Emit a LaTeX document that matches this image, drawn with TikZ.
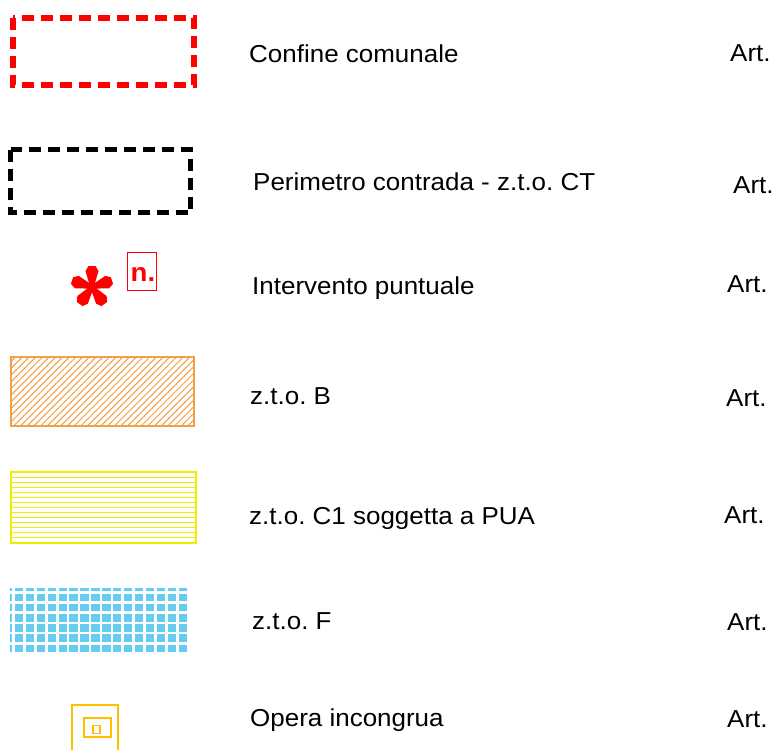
\documentclass[tikz,border=0pt]{standalone}
\usepackage{fontspec}
\setmainfont{Liberation Sans}[FakeStretch=1.06]
\frenchspacing
\definecolor{cfred}{RGB}{255,0,0}
\definecolor{orhatch}{RGB}{242,160,70}
\definecolor{ylw}{RGB}{238,238,0}
\definecolor{cyanq}{RGB}{102,204,242}
\definecolor{goldq}{RGB}{255,192,0}
\tikzset{
  lbl/.style={anchor=base west, inner sep=0pt, font=\fontsize{24.5}{28}\selectfont\frenchspacing, text=black},
  artlbl/.style={anchor=base west, inner sep=0pt, font=\fontsize{24.5}{28}\selectfont, text=black},
}
\begin{document}
\begin{tikzpicture}[x=1pt,y=-1pt]
\useasboundingbox (0,0) rectangle (775,749);
% Confine comunale
\draw[cfred, line width=6pt, dash pattern=on 12pt off 7pt] (13,18) rectangle (194,85);
% Perimetro contrada
\draw[black, line width=4.5pt, dash pattern=on 12pt off 7pt] (10.5,149.5) rectangle (190.5,212.5);
% Intervento puntuale: asterisk
\begin{scope}[shift={(92,287)}]
  \foreach \a in {18,90,162,234,306}{
    \fill[cfred, rotate=\a] (0,-1.8) -- (16,-6.5) -- (21,-3.5) -- (21,3.5) -- (16,6.5) -- (0,1.8) -- cycle;
  }
  \fill[cfred] (0,0) circle (3.5);
\end{scope}
\draw[cfred, line width=1.5pt] (127.5,252.5) rectangle (156.5,290.5);
\node[anchor=base west, inner sep=0pt, text=cfred, font=\fontsize{26}{28}\selectfont\bfseries] (nlab) at (130.5,281) {n.};
% z.t.o. B hatch
\begin{scope}
  \clip (11,357) rectangle (194,426);
  \foreach \i in {0,...,40}{
    \draw[orhatch, line width=1pt] ({-60+\i*6.7},426) -- ++(69,-69);
  }
\end{scope}
\draw[orhatch, line width=1.3pt] (11,357) rectangle (194,426);
% z.t.o. C1 lines
\foreach \i in {1,...,13}{
  \draw[ylw, line width=1.1pt] (11,{472+\i*5.07}) -- (196,{472+\i*5.07});
}
\draw[ylw, line width=1.6pt] (11,472) rectangle (196,543);
% z.t.o. F grid
\begin{scope}
  \clip (10,588) rectangle (187.3,653);
  \foreach \i in {-1,...,15}{
    \foreach \j in {-1,...,5}{
      \fill[cyanq] ({14.7+\i*10.95},{593.6+\j*10.2}) rectangle ++(8.2,7.6);
    }
  }
\end{scope}
% Opera incongrua
\draw[goldq, line width=2.5pt] (72.2,705.2) rectangle (117.8,752);
\draw[goldq, line width=2pt] (84.3,717.7) rectangle (110.7,737.3);
\draw[goldq, line width=1.5pt] (93,725.7) rectangle (100,733.3);
% labels
\node[lbl] (t1) at (249,63) {Confine comunale};
\node[lbl] (t2) at (253,190) {Perimetro contrada - z.t.o. CT};
\node[lbl] (t3) at (252,294) {Intervento puntuale};
\node[lbl] (t4) at (250,404) {z.t.o. B};
\node[lbl] (t5) at (249,524) {z.t.o. C1 soggetta a PUA};
\node[lbl] (t6) at (252,629) {z.t.o. F};
\node[lbl] (t7) at (250,726) {Opera incongrua};
\node[artlbl] (a1) at (730,62) {Art.};
\node[artlbl] (a2) at (733,193) {Art.};
\node[artlbl] (a3) at (727,292) {Art.};
\node[artlbl] (a4) at (726,406) {Art.};
\node[artlbl] (a5) at (724,523) {Art.};
\node[artlbl] (a6) at (727,630) {Art.};
\node[artlbl] (a7) at (727,727) {Art.};
\end{tikzpicture}
\end{document}
